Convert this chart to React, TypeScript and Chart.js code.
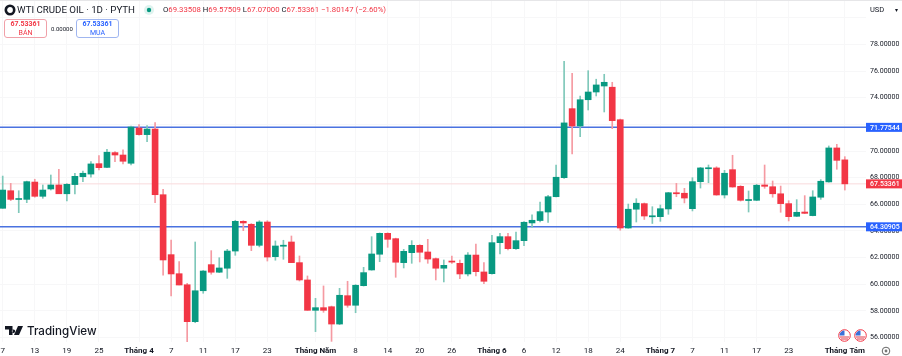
import React, { useEffect, useRef } from "react";
import { Chart, registerables } from "chart.js";

Chart.register(...registerables);

const opens = [65.70,67.02,66.36,66.37,67.67,66.60,67.15,67.45,66.79,67.48,68.07,68.27,69.05,68.77,69.88,69.70,69.08,71.73,71.23,71.65,66.72,62.22,60.79,59.96,57.19,59.51,61.47,60.90,61.20,62.49,64.72,64.50,62.92,64.67,62.07,62.85,63.17,61.62,60.32,58.04,58.24,58.31,57.01,59.14,58.42,59.89,61.07,62.25,63.82,63.42,61.62,62.37,62.92,62.42,61.92,61.20,61.74,61.57,60.77,62.19,60.92,60.79,63.12,63.57,62.67,63.27,64.60,64.78,65.42,66.57,68.00,73.18,71.88,73.85,74.43,74.88,74.79,72.35,64.22,65.63,66.05,65.06,65.07,65.65,66.87,66.83,65.67,67.70,68.67,68.73,66.70,68.60,67.35,66.28,66.30,67.45,67.32,66.79,66.05,65.10,65.42,65.15,66.53,67.68,70.23,69.33508];
const highs = [68.12,67.57,67.02,67.74,67.88,67.45,68.20,68.63,67.55,68.33,68.50,69.20,69.65,70.13,69.95,70.08,71.88,71.98,71.90,72.13,67.13,63.32,61.69,60.07,63.17,61.03,62.52,61.99,62.62,64.80,64.77,64.55,64.77,64.77,63.25,63.30,63.62,62.12,60.62,58.94,59.87,58.36,59.69,60.22,59.97,61.27,63.57,63.85,63.86,63.46,62.62,63.27,62.97,63.37,61.97,61.82,62.12,61.82,62.37,63.02,61.62,63.67,63.82,63.82,63.92,64.70,65.20,66.17,66.68,68.95,76.74,75.84,74.13,76.03,75.39,75.76,75.16,72.40,66.02,66.42,66.10,65.82,65.95,66.90,67.57,67.20,68.00,68.77,68.95,68.82,68.55,69.68,67.40,67.00,67.50,68.95,67.75,67.37,66.27,66.35,66.65,67.02,67.85,70.38,70.50,69.57509];
const lows = [65.70,66.27,65.37,66.12,66.53,66.45,67.07,66.79,66.25,66.77,67.70,68.03,68.58,68.75,69.20,69.03,68.95,71.18,70.70,66.12,60.67,59.12,59.94,55.61,57.11,59.32,60.75,60.87,60.44,62.17,64.02,62.52,62.80,61.74,61.80,61.87,61.62,60.24,58.04,56.44,57.89,55.71,56.97,58.27,57.86,59.86,61.05,61.69,62.77,60.52,61.22,61.57,61.67,61.57,60.32,60.17,61.57,60.41,60.62,60.62,60.04,60.75,62.27,62.57,62.62,62.89,64.27,64.67,64.63,66.55,67.95,69.78,71.08,73.08,74.13,72.93,71.68,64.05,64.20,64.67,64.86,64.56,64.72,65.25,66.57,66.10,65.50,67.22,67.62,66.68,66.47,67.28,66.24,65.42,66.27,67.20,66.53,65.40,64.75,65.08,65.30,65.13,66.37,67.66,68.63,67.07];
const closes = [67.07,66.37,66.43,67.70,66.60,67.07,67.45,66.79,67.50,68.10,68.33,69.03,68.75,69.91,69.70,69.23,71.80,71.23,71.65,66.72,61.82,60.77,59.94,57.19,59.51,60.99,60.90,61.22,62.49,64.72,64.60,62.92,64.67,62.04,62.87,62.93,61.62,60.32,58.04,58.24,58.04,57.01,59.17,58.42,59.92,60.87,62.27,63.82,63.37,61.65,62.47,62.92,62.40,61.89,61.20,61.42,61.66,60.77,62.19,60.94,60.22,63.12,63.57,62.67,63.27,64.65,64.80,65.45,66.57,68.03,72.11,71.88,73.85,74.43,74.96,75.16,72.28,64.22,65.63,66.08,65.12,65.14,65.67,66.87,66.79,66.47,67.70,68.73,68.73,66.70,68.33,67.30,66.30,66.36,67.43,67.35,66.79,66.05,65.07,65.40,65.32,66.55,67.73,70.23,69.30,67.53361];

const tickIndices = [0,4,8,12,17,21,25,29,33,39,44,48,52,56,61,65,69,73,77,82,86,90,94,98,105];
const tickLabels = ["7","13","19","25","Tháng 4","7","11","17","23","Tháng Năm","8","14","20","26","Tháng 6","6","12","18","24","Tháng 7","7","11","17","23","Tháng Tám"];
const hiddenPriceTicks = [72, 80];
const resistance = 71.77544;
const support = 64.30905;
const lastPrice = 67.53361;
const priceTags = [resistance, lastPrice, support];
const GREEN = "#089981";
const RED = "#f23645";
const BLUE = "#2962ff";
const xMin = -0.337;
const xMax = 107.64;
const yMin = 55.662;
const yMax = 81.337;

const indices = opens.map((_, i) => i);
const colors = indices.map((i) => (closes[i] >= opens[i] ? GREEN : RED));
const wickColors = indices.map((i) => (closes[i] >= opens[i] ? "#7fc8ba" : "#f59aa2"));
const levelData = (v: number) => [{ x: xMin, y: v }, { x: xMax, y: v }];

const tagPlugin = {
  id: "priceTags",
  afterDraw(chart: any) {
    const { ctx, scales } = chart;
    priceTags.forEach((v) => {
      const y = scales.y.getPixelForValue(v);
      ctx.save();
      ctx.fillStyle = v === lastPrice ? RED : BLUE;
      ctx.fillRect(866, y - 4.5, 36, 9);
      ctx.fillStyle = "#fff";
      ctx.font = "500 7px Roboto";
      ctx.textAlign = "left";
      ctx.textBaseline = "middle";
      ctx.fillText(v.toFixed(5), 870, y + 0.5);
      ctx.restore();
    });
  },
};

const font = "Roboto, sans-serif";
const abs = (left: number, top: number, extra: any = {}) => ({ position: "absolute", left, top, whiteSpace: "nowrap", fontFamily: font, ...extra });

function Flag({ left }: { left: number }) {
  return (
    <svg width="13" height="13" viewBox="0 0 13 13" style={{ position: "absolute", left, top: 329 }}>
      <circle cx="6.5" cy="6.5" r="5.8" fill="#fff" stroke="#f23645" strokeWidth="1" />
      <path d="M2 8h9M3 10h7" stroke="#e0394a" strokeWidth="1" />
      <path d="M1.5 6.5A5 5 0 0 1 6.5 1.5V6.5Z" fill="#3a6fd8" />
    </svg>
  );
}

export default function App() {
  const ref = useRef<HTMLCanvasElement>(null);
  useEffect(() => {
    const chart = new Chart(ref.current!, {
      type: "bar",
      data: {
        datasets: [
          { type: "line", data: levelData(lastPrice), borderColor: "#f9dadc", borderWidth: 1, pointRadius: 0, order: 6 },
          { type: "line", data: levelData(resistance), borderColor: "#4a72e0", borderWidth: 1.5, pointRadius: 0, order: 5 },
          { type: "line", data: levelData(support), borderColor: "#4a72e0", borderWidth: 1.5, pointRadius: 0, order: 5 },
          { data: indices.map((i) => ({ x: i, y: [lows[i], highs[i]] })), backgroundColor: wickColors, barThickness: 1, grouped: false, order: 2 },
          { data: indices.map((i) => ({ x: i, y: [opens[i], closes[i]] })), backgroundColor: colors, barThickness: 6, minBarLength: 1, grouped: false, order: 1 },
        ],
      } as any,
      plugins: [tagPlugin],
      options: {
        responsive: false,
        animation: false,
        layout: { padding: 0 },
        plugins: { legend: { display: false }, tooltip: { enabled: false } },
        scales: {
          x: {
            type: "linear",
            offset: false,
            min: xMin,
            max: xMax,
            grid: { color: "#f7f7f8", offset: false, drawTicks: false },
            border: { display: false },
            afterBuildTicks(scale: any) {
              scale.ticks = tickIndices.map((value) => ({ value }));
            },
            afterFit(scale: any) {
              scale.height = 14;
              scale.paddingLeft = 0;
              scale.paddingRight = 0;
            },
            ticks: {
              autoSkip: false,
              maxRotation: 0,
              padding: 4,
              color: "#131722",
              font: (ctx: any) => ({ family: "Roboto", size: 8, weight: ctx.index !== undefined && tickLabels[ctx.index].startsWith("Tháng") ? "bold" : "normal" }),
              callback: (_: any, i: number) => tickLabels[i],
            },
          },
          y: {
            position: "right",
            min: yMin,
            max: yMax,
            grid: { color: "#f7f7f8", drawTicks: false },
            border: { display: false },
            afterFit(scale: any) {
              scale.width = 36;
              scale.paddingTop = 0;
              scale.paddingBottom = 0;
            },
            ticks: {
              stepSize: 2,
              includeBounds: false,
              padding: 4,
              color: "#131722",
              font: { family: "Roboto", size: 7 },
              callback: (v: any) => (hiddenPriceTicks.includes(v) ? "" : Number(v).toFixed(5)),
            },
          },
        },
      } as any,
    });
    return () => chart.destroy();
  }, []);

  return (
    <div style={{ position: "fixed", left: 0, top: 0, width: 902, height: 356, background: "#fff", overflow: "hidden" }}>
      <canvas ref={ref} width={902} height={356} style={{ position: "absolute", left: 0, top: 0, display: "block" }} />
      <div style={{ position: "absolute", left: 0, top: 0, width: 902, height: 1, background: "#e6e6e8" }} />
      <svg width="12" height="12" style={{ position: "absolute", left: 4, top: 4 }}>
        <circle cx="6" cy="6" r="4.2" fill="none" stroke="#131722" strokeWidth="2.6" />
      </svg>
      <div style={abs(17, 3, { fontSize: 9.7, color: "#131722", lineHeight: "14px" })}>WTI CRUDE OIL · 1D · PYTH</div>
      <svg width="12" height="12" style={{ position: "absolute", left: 143, top: 4 }}>
        <circle cx="6" cy="6" r="5" fill="#dff3ef" />
        <circle cx="6" cy="6" r="2.2" fill={GREEN} />
      </svg>
      <div style={abs(163, 3, { fontSize: 7.75, lineHeight: "14px", color: RED })}>
        <span style={{ color: "#131722" }}>O</span>69.33508 <span style={{ color: "#131722" }}>H</span>69.57509 <span style={{ color: "#131722" }}>L</span>67.07000 <span style={{ color: "#131722" }}>C</span>67.53361 −1.80147 (−2.60%)
      </div>
      <div style={abs(4, 19, { width: 41, height: 17, border: "1px solid #f0a0a8", borderRadius: 3, textAlign: "center", color: RED, fontSize: 7, lineHeight: "8.5px" })}>
        <div style={{ fontWeight: 700 }}>67.53361</div>
        <div>BÁN</div>
      </div>
      <div style={abs(51, 25, { fontSize: 6, color: "#131722", lineHeight: "8px" })}>0.00000</div>
      <div style={abs(76, 19, { width: 41, height: 17, border: "1px solid #a0b6f0", borderRadius: 3, textAlign: "center", color: BLUE, fontSize: 7, lineHeight: "8.5px" })}>
        <div style={{ fontWeight: 700 }}>67.53361</div>
        <div>MUA</div>
      </div>
      <div style={abs(870, 4, { fontSize: 7.5, color: "#131722", lineHeight: "12px" })}>USD</div>
      <div style={abs(895, 4, { fontSize: 6, color: "#131722", lineHeight: "12px" })}>▾</div>
      <svg width="18" height="10" viewBox="0 0 18 10" style={{ position: "absolute", left: 5, top: 326 }}>
        <path d="M0 0h7.5v9H4V3.5H0ZM8.5 3.5a1.7 1.7 0 1 0 .01 0ZM13 0h5l-4 9H9Z" fill="#131722" />
      </svg>
      <div style={abs(27, 323, { fontSize: 11.6, fontWeight: 500, color: "#131722", lineHeight: "17px", fontFamily: "Inter, sans-serif" })}>TradingView</div>
      <Flag left={838} />
      <Flag left={854} />
      <svg width="10" height="10" style={{ position: "absolute", left: 881, top: 346 }}>
        <circle cx="5" cy="5" r="3.8" fill="none" stroke="#555" strokeWidth="0.9" />
        <circle cx="5" cy="5" r="1.4" fill="#777" />
      </svg>
    </div>
  );
}
